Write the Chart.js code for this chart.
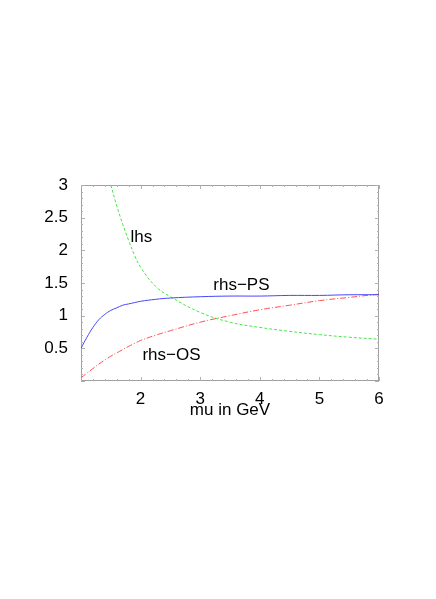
<!DOCTYPE html>
<html>
<head>
<meta charset="utf-8">
<script src="https://cdn.jsdelivr.net/npm/chart.js@4/dist/chart.umd.min.js"></script>
<style>
  html, body { margin: 0; padding: 0; background: #fff; }
  #wrap { width: 436px; height: 599px; }
</style>
</head>
<body>
<div id="wrap"><canvas id="muChart" width="436" height="599"></canvas></div>
<script>
// values
const mu = [1, 1.1, 1.2, 1.3, 1.4, 1.5, 1.6, 1.7, 1.8, 1.9, 2, 2.25, 2.5, 3, 3.5, 4, 4.5, 5, 5.5, 6];
const rhsPS = [0.50, 0.67, 0.82, 0.94, 1.02, 1.08, 1.12, 1.16, 1.18, 1.20, 1.22, 1.25, 1.27, 1.29, 1.30, 1.30, 1.31, 1.31, 1.32, 1.32];
const rhsOS = [0.05, 0.12, 0.19, 0.26, 0.32, 0.38, 0.43, 0.48, 0.53, 0.575, 0.62, 0.70, 0.77, 0.90, 1.00, 1.09, 1.16, 1.23, 1.28, 1.33];
const lhs = [null, null, null, null, null, 3.0, 2.68, 2.40, 2.15, 1.92, 1.74, 1.45, 1.29, 1.05, 0.90, 0.82, 0.76, 0.71, 0.67, 0.64];
const xTicks = [2, 3, 4, 5, 6];
const yTicks = [0.5, 1, 1.5, 2, 2.5, 3];

// curve labels, placed in data coordinates
const curveLabels = [
    { text: 'lhs', x: 1.83, y: 2.13 },
    { text: 'rhs\u2212PS', x: 3.22, y: 1.40 },
    { text: 'rhs\u2212OS', x: 2.03, y: 0.32 }
];

function pts(ys) {
    return mu.map(function(m, i) { return { x: m, y: ys[i] }; });
}

// frame, inward ticks and curve labels
const framePlugin = {
    id: 'frame',
    beforeDatasetsDraw(chart) {
        const ctx = chart.ctx;
        const a = chart.chartArea;
        const xs = chart.scales.x, ys = chart.scales.y;
        ctx.save();
        ctx.strokeStyle = '#a0a0a0';
        ctx.lineWidth = 1;
        ctx.strokeRect(a.left + 0.5, a.top + 0.5, a.right - a.left - 1, a.bottom - a.top - 1);
        ctx.strokeStyle = '#b0b0b0';
        ctx.beginPath();
        for (let i = 0; i <= 25; i++) {
            const v = 1 + i * 0.2;
            const px = Math.round(xs.getPixelForValue(v)) + 0.5;
            const len = (i % 5 === 0) ? 4 : 2;
            ctx.moveTo(px, a.bottom); ctx.lineTo(px, a.bottom - len);
            ctx.moveTo(px, a.top); ctx.lineTo(px, a.top + len);
        }
        for (let i = 0; i <= 30; i++) {
            const v = i * 0.1;
            const py = Math.round(ys.getPixelForValue(v)) + 0.5;
            const len = (i % 5 === 0) ? 4 : 2;
            ctx.moveTo(a.left, py); ctx.lineTo(a.left + len, py);
            ctx.moveTo(a.right, py); ctx.lineTo(a.right - len, py);
        }
        ctx.stroke();
        ctx.restore();
    },
    afterDatasetsDraw(chart) {
        const ctx = chart.ctx;
        const xs = chart.scales.x, ys = chart.scales.y;
        ctx.save();
        ctx.fillStyle = '#000';
        ctx.font = '17px "Liberation Sans", Arial, sans-serif';
        ctx.textAlign = 'left';
        ctx.textBaseline = 'alphabetic';
        curveLabels.forEach(function(l) {
            ctx.fillText(l.text, xs.getPixelForValue(l.x), ys.getPixelForValue(l.y));
        });
        ctx.restore();
    }
};

const tickFont = { family: '"Liberation Sans", Arial, sans-serif', size: 17 };

new Chart(document.getElementById('muChart'), {
    type: 'line',
    data: {
        datasets: [{
            label: 'rhs-PS',
            data: pts(rhsPS),
            borderColor: 'rgb(70,70,255)',
            borderWidth: 1,
            pointRadius: 0,
            tension: 0.4
        }, {
            label: 'rhs-OS',
            data: pts(rhsOS),
            borderColor: 'rgb(255,80,80)',
            borderWidth: 1,
            borderDash: [6, 2, 1, 2],
            pointRadius: 0,
            tension: 0.4
        }, {
            label: 'lhs',
            data: pts(lhs),
            borderColor: 'rgb(70,230,70)',
            borderWidth: 1,
            borderDash: [3, 2],
            pointRadius: 0,
            spanGaps: false,
            tension: 0.4
        }]
    },
    options: {
        responsive: false,
        animation: false,
        layout: { padding: { left: 0, right: 57, top: 185, bottom: 176 } },
        plugins: {
            legend: { display: false },
            tooltip: { enabled: false }
        },
        scales: {
            x: {
                type: 'linear',
                min: 1,
                max: 6,
                afterFit: function(s) { s.height = 42; },
                afterBuildTicks: function(s) { s.ticks = xTicks.map(function(v) { return { value: v }; }); },
                grid: { display: false },
                border: { display: false },
                ticks: { color: '#000', font: tickFont, padding: 0, callback: function(v) { return String(v); } },
                title: {
                    display: true,
                    text: 'mu in GeV',
                    color: '#000',
                    font: tickFont,
                    padding: { top: 0, bottom: 2 }
                }
            },
            y: {
                min: 0,
                max: 3,
                afterFit: function(s) { s.width = 81; },
                afterBuildTicks: function(s) { s.ticks = yTicks.map(function(v) { return { value: v }; }); },
                grid: { display: false },
                border: { display: false },
                ticks: { color: '#000', font: tickFont, padding: 5, callback: function(v) { return String(v); } }
            }
        }
    },
    plugins: [framePlugin]
});
</script>
</body>
</html>
